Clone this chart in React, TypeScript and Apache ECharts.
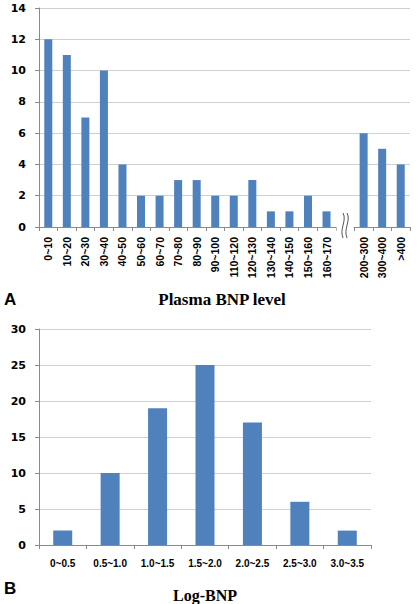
import React, { useEffect, useRef } from "react";
import * as echarts from "echarts";

const bnpCategories = [
  "0~10", "10~20", "20~30", "30~40", "40~50", "50~60", "60~70", "70~80",
  "80~90", "90~100", "110~120", "120~130", "130~140", "140~150", "150~160",
  "160~170", "", "200~300", "300~400", ">400",
];
const bnpCounts: (number | string)[] = [
  12, 11, 7, 10, 4, 2, 2, 3, 3, 2, 2, 3, 1, 1, 2, 1, "-", 6, 5, 4,
];
const bnpTicks = [0, 14, 2];

const logCategories = ["0~0.5", "0.5~1.0", "1.0~1.5", "1.5~2.0", "2.0~2.5", "2.5~3.0", "3.0~3.5"];
const logCounts = [2, 10, 19, 25, 17, 6, 2];
const logTicks = [0, 30, 5];

const BAR = "#4F81BD";
const AXIS = "#8a8a8a";
const GRID = "#d0d0d0";

export default function App() {
  const ref = useRef<HTMLDivElement>(null);
  useEffect(() => {
    document.body.style.margin = "0";
    const chart = echarts.init(ref.current!, null, { renderer: "svg" });
    const yLabel = {
      fontFamily: "DejaVu Sans",
      fontWeight: "bold",
      fontSize: 11,
      color: "#000",
      margin: 13,
    };
    // grid A: x 39..410, y 8..227 ; grid B: x 39..371, y 329..545
    const catW = 371 / bnpCategories.length;
    const breakL = 39 + 16 * catW;
    const breakR = 39 + 17 * catW;
    const bx = (breakL + breakR) / 2;
    chart.setOption({
      animation: false,
      grid: [
        { left: 39, top: 8, width: 371, height: 219 },
        { left: 39, top: 329, width: 332, height: 216 },
      ],
      xAxis: [
        {
          type: "category",
          gridIndex: 0,
          data: bnpCategories,
          axisLine: { lineStyle: { color: AXIS, width: 1 } },
          axisTick: { show: true, length: 4, lineStyle: { color: AXIS } },
          axisLabel: {
            interval: 0,
            rotate: 90,
            fontFamily: "Liberation Sans",
            fontWeight: "bold",
            fontSize: 10.5,
            color: "#000",
            margin: 10,
          },
        },
        {
          type: "category",
          gridIndex: 1,
          data: logCategories,
          axisLine: { lineStyle: { color: AXIS, width: 1 } },
          axisTick: { show: true, length: 4, lineStyle: { color: AXIS } },
          axisLabel: {
            interval: 0,
            fontFamily: "Liberation Sans",
            fontWeight: "bold",
            fontSize: 10,
            color: "#000",
            margin: 13,
          },
        },
      ],
      yAxis: [
        {
          type: "value",
          gridIndex: 0,
          min: bnpTicks[0],
          max: bnpTicks[1],
          interval: bnpTicks[2],
          axisLine: { show: true, lineStyle: { color: AXIS } },
          axisTick: { show: true, length: 4, lineStyle: { color: AXIS } },
          splitLine: { lineStyle: { color: GRID } },
          axisLabel: yLabel,
        },
        {
          type: "value",
          gridIndex: 1,
          min: logTicks[0],
          max: logTicks[1],
          interval: logTicks[2],
          axisLine: { show: true, lineStyle: { color: AXIS } },
          axisTick: { show: true, length: 4, lineStyle: { color: AXIS } },
          splitLine: { lineStyle: { color: GRID } },
          axisLabel: yLabel,
        },
      ],
      series: [
        {
          type: "bar",
          xAxisIndex: 0,
          yAxisIndex: 0,
          data: bnpCounts,
          barWidth: 8,
          itemStyle: { color: BAR },
        },
        {
          type: "bar",
          xAxisIndex: 1,
          yAxisIndex: 1,
          data: logCounts,
          barWidth: 19,
          itemStyle: { color: BAR },
        },
      ],
      graphic: [
        {
          type: "rect",
          shape: { x: breakL + 0.8, y: 224, width: breakR - breakL - 1.6, height: 9 },
          style: { fill: "#fff" },
          z: 100,
        },
        {
          type: "bezierCurve",
          shape: { x1: bx - 2, y1: 213, cpx1: bx + 2, cpy1: 221, cpx2: bx - 6, cpy2: 229, x2: bx - 2, y2: 238 },
          style: { stroke: "#555", lineWidth: 1, fill: null },
          z: 101,
        },
        {
          type: "bezierCurve",
          shape: { x1: bx + 2, y1: 213, cpx1: bx + 6, cpy1: 221, cpx2: bx - 2, cpy2: 229, x2: bx + 2, y2: 238 },
          style: { stroke: "#555", lineWidth: 1, fill: null },
          z: 101,
        },
        {
          type: "text",
          x: 4,
          y: 299,
          style: {
            text: "A",
            font: "bold 17px 'Liberation Sans'",
            fill: "#000",
            textVerticalAlign: "middle",
          },
        },
        {
          type: "text",
          x: 222,
          y: 299,
          style: {
            text: "Plasma BNP level",
            font: "bold 17px 'Liberation Serif'",
            fill: "#000",
            textAlign: "center",
            textVerticalAlign: "middle",
          },
        },
        {
          type: "text",
          x: 4,
          y: 588,
          style: {
            text: "B",
            font: "bold 17px 'Liberation Sans'",
            fill: "#000",
            textVerticalAlign: "middle",
          },
        },
        {
          type: "text",
          x: 205,
          y: 595,
          style: {
            text: "Log-BNP",
            font: "bold 16px 'Liberation Serif'",
            fill: "#000",
            textAlign: "center",
            textVerticalAlign: "middle",
          },
        },
      ],
    });
    return () => chart.dispose();
  }, []);
  return <div ref={ref} style={{ width: 418, height: 604 }} />;
}
